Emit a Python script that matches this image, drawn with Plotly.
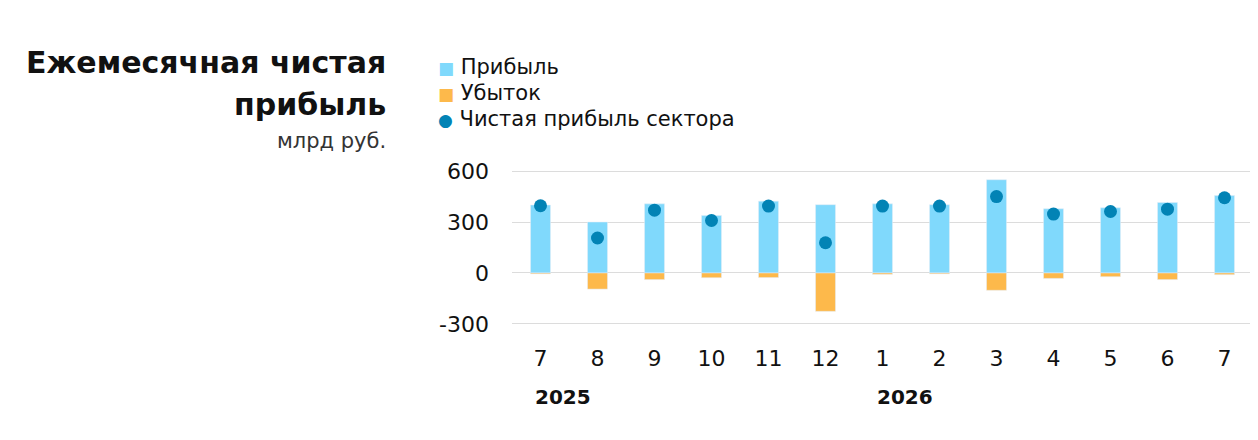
import plotly.graph_objects as go

months = ["7", "8", "9", "10", "11", "12", "1", "2", "3", "4", "5", "6", "7"]
years = ["2025", "", "", "", "", "", "2026", "", "", "", "", "", ""]
profit = [400, 300, 407, 339, 423, 402, 407, 402, 549, 378, 384, 415, 456]
loss = [-5, -95, -39, -28, -27, -226, -8, -5, -102, -32, -22, -39, -10]
net = [396, 206, 370, 309, 394, 178, 394, 394, 450, 347, 362, 376, 443]

FONT = "DejaVu Sans"
C_PROFIT, C_LOSS, C_NET = "#80d9fc", "#fdb94b", "#0283b5"
OFF = 8  # page body margin
x = list(range(len(months)))

fig = go.Figure()
fig.add_trace(go.Bar(x=x, y=profit, name="Прибыль", marker_color=C_PROFIT, width=0.35))
fig.add_trace(go.Bar(x=x, y=loss, name="Убыток", marker_color=C_LOSS, width=0.35))
fig.add_trace(go.Scatter(x=x, y=net, name="Чистая прибыль сектора", mode="markers",
                         marker=dict(color=C_NET, size=13)))

# plot area in figure px
left, right = 504, 1245
top, bot = 158, 321
def py(ys):
    return 1 + (top - (ys - OFF)) / (bot - top)
def px(xs):
    return ((xs - OFF) - left) / (right - left)

ann = [
    dict(text="<b>Ежемесячная чистая</b>", x=px(388), y=py(62), font=dict(size=30, color="#111")),
    dict(text="<b>прибыль</b>", x=px(388), y=py(104), font=dict(size=30, color="#111")),
    dict(text="млрд руб.", x=px(388), y=py(141), font=dict(size=21, color="#333")),
]
for a in ann:
    fig.add_annotation(xref="paper", yref="paper", xanchor="right", yanchor="middle",
                       showarrow=False, **a)

# legend, drawn as text
leg = [("■", C_PROFIT, "Прибыль", 67), ("■", C_LOSS, "Убыток", 93),
       ("●", C_NET, "Чистая прибыль сектора", 119)]
for sym, col, name, ys in leg:
    fig.add_annotation(text="<span style='color:%s;font-size:17px'>%s</span> %s" % (col, sym, name),
                       xref="paper", yref="paper", x=px(436), y=py(ys),
                       xanchor="left", yanchor="middle", showarrow=False,
                       font=dict(size=21, color="#111"))

for i, yr in enumerate(years):
    if yr:
        fig.add_annotation(text="<b>" + yr + "</b>", x=i, xref="x", y=py(397), yref="paper",
                           xanchor="left", yanchor="middle", xshift=-8, showarrow=False,
                           font=dict(size=20, color="#111"))

fig.update_layout(
    width=1258, height=440,
    margin=dict(l=left, r=1258 - right, t=top, b=440 - bot),
    plot_bgcolor="white", paper_bgcolor="white",
    barmode="relative",
    font=dict(family=FONT, size=20, color="#111"),
    showlegend=False,
    xaxis=dict(tickvals=x, ticktext=months, range=[-0.5, len(months) - 0.5],
               showgrid=False, zeroline=False, ticklabelstandoff=14,
               tickfont=dict(size=22)),
    yaxis=dict(range=[-330, 630], tickvals=[-300, 0, 300, 600],
               ticktext=["-300", "0", "300", "600"],
               showgrid=True, gridcolor="#dcdcdc", gridwidth=1,
               zeroline=False, ticklabelstandoff=22, tickfont=dict(size=22)),
)

fig.write_html("out.html")
